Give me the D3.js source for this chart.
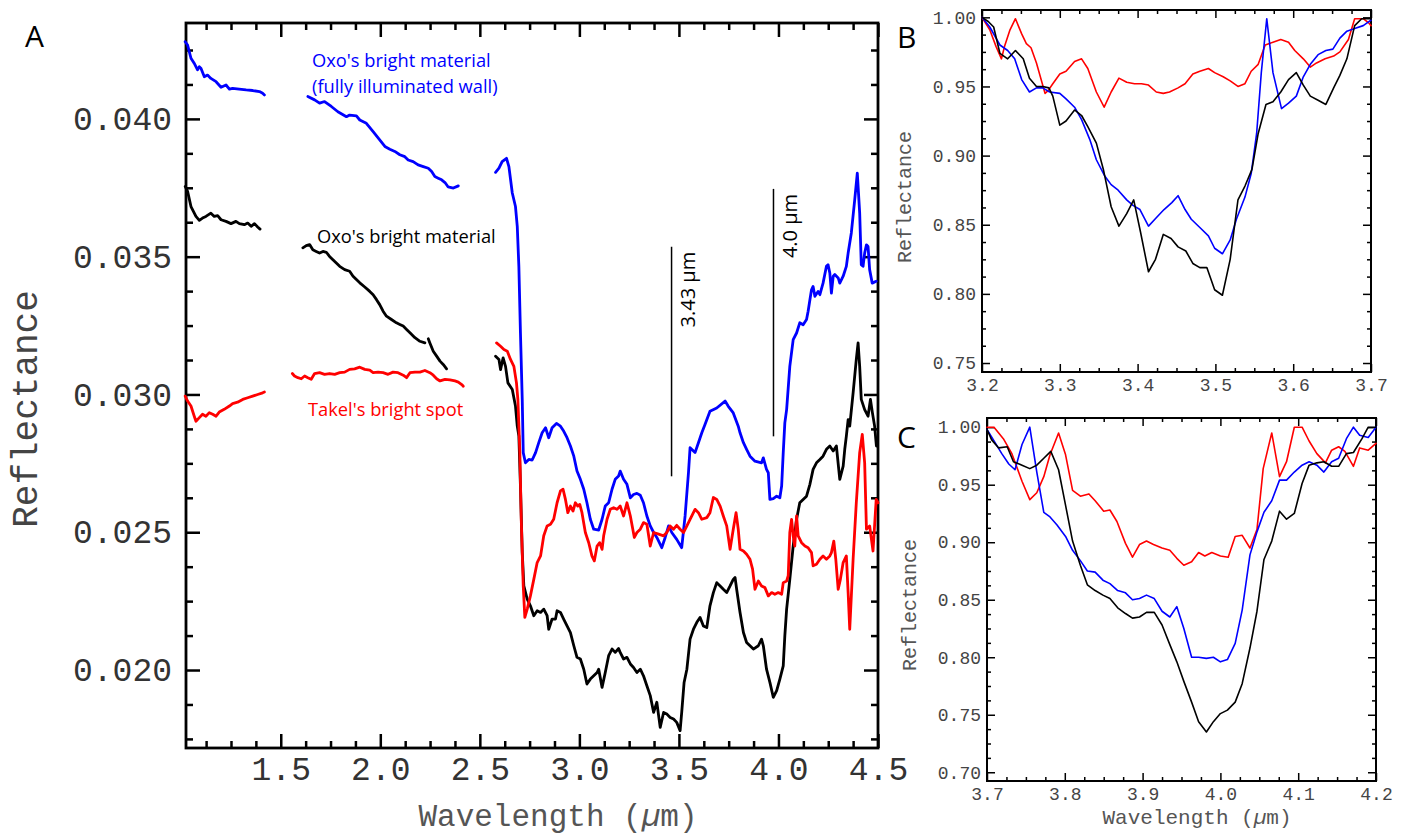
<!DOCTYPE html>
<html>
<head>
<meta charset="utf-8">
<script src="https://cdn.jsdelivr.net/npm/d3@7"></script>
<style>
  body { margin: 0; background: #fff; }
  svg { display: block; }
</style>
</head>
<body>
<script>
// ---- panel A : full spectra, three segments each (gaps = order overlaps) ----
var oxoWall = [
  [[1.020,0.04280],[1.032,0.04268],[1.049,0.04220],[1.065,0.04202],[1.082,0.04178],[1.091,0.04189],[1.099,0.04184],[1.116,0.04153],[1.132,0.04159],[1.149,0.04147],[1.175,0.04135],[1.200,0.04115],[1.225,0.04123],[1.242,0.04108],[1.258,0.04111],[1.291,0.04108],[1.326,0.04105],[1.359,0.04103],[1.393,0.04099],[1.409,0.04093],[1.418,0.04087]],
  [[1.636,0.04081],[1.670,0.04069],[1.695,0.04057],[1.720,0.04063],[1.754,0.04045],[1.787,0.04026],[1.830,0.04008],[1.846,0.04014],[1.880,0.04011],[1.897,0.03996],[1.930,0.03984],[1.964,0.03954],[1.997,0.03924],[2.023,0.03900],[2.048,0.03890],[2.073,0.03882],[2.098,0.03870],[2.123,0.03863],[2.140,0.03851],[2.165,0.03845],[2.190,0.03833],[2.216,0.03827],[2.241,0.03821],[2.258,0.03809],[2.274,0.03791],[2.291,0.03785],[2.308,0.03779],[2.325,0.03769],[2.341,0.03753],[2.367,0.03749],[2.392,0.03757]],
  [[2.579,0.03806],[2.596,0.03821],[2.612,0.03845],[2.634,0.03857],[2.646,0.03827],[2.663,0.03731],[2.679,0.03682],[2.688,0.03610],[2.696,0.03465],[2.704,0.03223],[2.713,0.02982],[2.718,0.02789],[2.729,0.02752],[2.746,0.02764],[2.763,0.02762],[2.780,0.02789],[2.796,0.02825],[2.813,0.02861],[2.830,0.02879],[2.846,0.02843],[2.863,0.02879],[2.885,0.02895],[2.905,0.02885],[2.921,0.02867],[2.938,0.02843],[2.955,0.02813],[2.972,0.02776],[2.988,0.02722],[3.005,0.02692],[3.022,0.02656],[3.038,0.02607],[3.055,0.02547],[3.072,0.02511],[3.097,0.02508],[3.114,0.02547],[3.130,0.02595],[3.147,0.02607],[3.164,0.02656],[3.180,0.02692],[3.197,0.02704],[3.205,0.02722],[3.222,0.02692],[3.239,0.02674],[3.256,0.02625],[3.272,0.02637],[3.289,0.02641],[3.306,0.02634],[3.322,0.02607],[3.339,0.02559],[3.356,0.02523],[3.373,0.02499],[3.389,0.02481],[3.414,0.02444],[3.431,0.02481],[3.448,0.02523],[3.464,0.02499],[3.489,0.02474],[3.514,0.02444],[3.531,0.02559],[3.548,0.02716],[3.556,0.02807],[3.581,0.02789],[3.598,0.02825],[3.615,0.02861],[3.631,0.02891],[3.656,0.02939],[3.690,0.02951],[3.732,0.02976],[3.748,0.02957],[3.773,0.02933],[3.798,0.02885],[3.807,0.02861],[3.824,0.02825],[3.840,0.02801],[3.857,0.02776],[3.882,0.02758],[3.915,0.02752],[3.924,0.02770],[3.940,0.02728],[3.949,0.02716],[3.957,0.02619],[3.974,0.02622],[3.991,0.02631],[4.007,0.02625],[4.016,0.02668],[4.024,0.02789],[4.032,0.02897],[4.041,0.02945],[4.057,0.03102],[4.074,0.03199],[4.091,0.03223],[4.107,0.03260],[4.124,0.03253],[4.141,0.03272],[4.149,0.03302],[4.158,0.03344],[4.166,0.03380],[4.174,0.03392],[4.183,0.03356],[4.199,0.03374],[4.208,0.03362],[4.224,0.03404],[4.241,0.03465],[4.249,0.03471],[4.258,0.03441],[4.266,0.03368],[4.275,0.03429],[4.283,0.03435],[4.300,0.03423],[4.308,0.03404],[4.325,0.03429],[4.341,0.03465],[4.350,0.03513],[4.366,0.03586],[4.383,0.03706],[4.396,0.03803],[4.408,0.03658],[4.416,0.03471],[4.425,0.03465],[4.433,0.03513],[4.442,0.03543],[4.450,0.03537],[4.458,0.03453],[4.471,0.03404],[4.491,0.03411]]
];

var oxoBright = [
  [[1.020,0.03755],[1.032,0.03737],[1.049,0.03682],[1.074,0.03646],[1.091,0.03632],[1.107,0.03640],[1.124,0.03646],[1.149,0.03658],[1.166,0.03646],[1.183,0.03649],[1.200,0.03634],[1.225,0.03628],[1.250,0.03620],[1.275,0.03628],[1.292,0.03620],[1.317,0.03616],[1.334,0.03622],[1.351,0.03610],[1.368,0.03620],[1.384,0.03608],[1.396,0.03600]],
  [[1.611,0.03532],[1.628,0.03540],[1.645,0.03544],[1.661,0.03525],[1.678,0.03519],[1.695,0.03513],[1.712,0.03519],[1.729,0.03516],[1.745,0.03501],[1.762,0.03489],[1.779,0.03477],[1.796,0.03465],[1.821,0.03453],[1.846,0.03447],[1.863,0.03429],[1.880,0.03417],[1.897,0.03405],[1.922,0.03390],[1.947,0.03374],[1.964,0.03362],[1.981,0.03344],[1.997,0.03326],[2.014,0.03302],[2.031,0.03284],[2.056,0.03272],[2.081,0.03260],[2.098,0.03254],[2.115,0.03248],[2.132,0.03236],[2.149,0.03224],[2.174,0.03206],[2.199,0.03193],[2.224,0.03187]],
  [[2.241,0.03202],[2.249,0.03187],[2.266,0.03157],[2.283,0.03139],[2.300,0.03121],[2.316,0.03109],[2.333,0.03093]],
  [[2.579,0.03139],[2.596,0.03127],[2.604,0.03090],[2.617,0.03133],[2.629,0.03102],[2.641,0.03042],[2.663,0.03018],[2.679,0.02958],[2.688,0.02885],[2.696,0.02849],[2.704,0.02668],[2.713,0.02426],[2.721,0.02305],[2.738,0.02257],[2.754,0.02233],[2.771,0.02197],[2.788,0.02215],[2.805,0.02209],[2.821,0.02221],[2.838,0.02197],[2.846,0.02148],[2.863,0.02185],[2.880,0.02185],[2.888,0.02215],[2.905,0.02209],[2.921,0.02185],[2.938,0.02160],[2.955,0.02136],[2.972,0.02088],[2.988,0.02046],[3.005,0.02040],[3.022,0.02003],[3.038,0.01949],[3.055,0.01967],[3.072,0.01979],[3.089,0.01991],[3.097,0.02003],[3.114,0.01937],[3.130,0.01991],[3.147,0.02052],[3.164,0.02076],[3.180,0.02064],[3.197,0.02078],[3.205,0.02064],[3.222,0.02040],[3.239,0.02046],[3.256,0.02022],[3.272,0.02009],[3.289,0.01991],[3.306,0.02003],[3.322,0.01979],[3.339,0.01943],[3.356,0.01907],[3.373,0.01846],[3.389,0.01883],[3.406,0.01792],[3.423,0.01846],[3.439,0.01840],[3.456,0.01828],[3.473,0.01822],[3.489,0.01810],[3.506,0.01780],[3.514,0.01846],[3.526,0.01955],[3.540,0.02003],[3.556,0.02112],[3.573,0.02148],[3.590,0.02173],[3.606,0.02191],[3.623,0.02160],[3.640,0.02154],[3.656,0.02233],[3.673,0.02281],[3.690,0.02317],[3.707,0.02305],[3.723,0.02293],[3.740,0.02281],[3.757,0.02305],[3.773,0.02329],[3.782,0.02336],[3.790,0.02293],[3.807,0.02209],[3.824,0.02136],[3.840,0.02100],[3.857,0.02088],[3.874,0.02076],[3.899,0.02088],[3.915,0.02112],[3.924,0.02088],[3.940,0.02003],[3.957,0.01955],[3.974,0.01901],[3.991,0.01925],[4.007,0.01967],[4.024,0.02015],[4.032,0.02124],[4.041,0.02221],[4.057,0.02329],[4.074,0.02450],[4.091,0.02547],[4.107,0.02607],[4.124,0.02619],[4.141,0.02631],[4.158,0.02674],[4.174,0.02728],[4.191,0.02752],[4.208,0.02764],[4.224,0.02776],[4.241,0.02801],[4.258,0.02813],[4.275,0.02795],[4.291,0.02813],[4.308,0.02692],[4.325,0.02740],[4.333,0.02801],[4.341,0.02849],[4.350,0.02909],[4.358,0.02885],[4.375,0.03006],[4.391,0.03127],[4.400,0.03187],[4.408,0.03102],[4.416,0.02982],[4.433,0.02945],[4.450,0.02921],[4.462,0.02982],[4.472,0.02933],[4.483,0.02885],[4.492,0.02813]]
];

var takelSpot = [
  [[1.020,0.02994],[1.032,0.02976],[1.049,0.02958],[1.065,0.02922],[1.074,0.02903],[1.091,0.02916],[1.107,0.02928],[1.124,0.02921],[1.141,0.02934],[1.158,0.02928],[1.175,0.02921],[1.191,0.02936],[1.216,0.02946],[1.242,0.02958],[1.258,0.02967],[1.283,0.02972],[1.309,0.02982],[1.334,0.02988],[1.359,0.02994],[1.384,0.03000],[1.409,0.03006],[1.418,0.03009]],
  [[1.558,0.03076],[1.569,0.03067],[1.586,0.03061],[1.603,0.03057],[1.620,0.03067],[1.636,0.03061],[1.653,0.03055],[1.670,0.03076],[1.695,0.03079],[1.720,0.03073],[1.745,0.03076],[1.771,0.03073],[1.796,0.03079],[1.821,0.03081],[1.846,0.03091],[1.871,0.03093],[1.897,0.03099],[1.922,0.03091],[1.947,0.03088],[1.964,0.03079],[1.989,0.03081],[2.014,0.03079],[2.039,0.03073],[2.064,0.03081],[2.089,0.03079],[2.115,0.03070],[2.132,0.03061],[2.149,0.03079],[2.174,0.03081],[2.199,0.03081],[2.224,0.03087],[2.249,0.03079],[2.266,0.03070],[2.283,0.03057],[2.300,0.03049],[2.325,0.03055],[2.350,0.03053],[2.375,0.03049],[2.392,0.03045],[2.409,0.03036],[2.417,0.03030]],
  [[2.584,0.03187],[2.604,0.03175],[2.621,0.03163],[2.638,0.03157],[2.654,0.03127],[2.671,0.03102],[2.684,0.03042],[2.691,0.02982],[2.701,0.02789],[2.708,0.02547],[2.718,0.02305],[2.726,0.02191],[2.738,0.02221],[2.754,0.02269],[2.771,0.02329],[2.788,0.02390],[2.805,0.02414],[2.821,0.02487],[2.838,0.02523],[2.855,0.02529],[2.871,0.02547],[2.888,0.02607],[2.905,0.02650],[2.918,0.02656],[2.930,0.02619],[2.942,0.02571],[2.955,0.02595],[2.968,0.02577],[2.980,0.02607],[2.992,0.02595],[3.002,0.02601],[3.013,0.02571],[3.030,0.02499],[3.047,0.02462],[3.063,0.02414],[3.075,0.02396],[3.089,0.02450],[3.102,0.02462],[3.114,0.02438],[3.122,0.02487],[3.139,0.02547],[3.155,0.02583],[3.172,0.02589],[3.189,0.02583],[3.205,0.02595],[3.222,0.02559],[3.239,0.02607],[3.256,0.02559],[3.276,0.02481],[3.289,0.02499],[3.306,0.02511],[3.322,0.02535],[3.339,0.02529],[3.356,0.02450],[3.373,0.02499],[3.398,0.02493],[3.423,0.02487],[3.439,0.02499],[3.456,0.02523],[3.473,0.02511],[3.489,0.02525],[3.506,0.02511],[3.523,0.02499],[3.540,0.02523],[3.556,0.02547],[3.581,0.02583],[3.598,0.02571],[3.615,0.02547],[3.640,0.02553],[3.656,0.02571],[3.673,0.02626],[3.690,0.02619],[3.707,0.02595],[3.723,0.02559],[3.740,0.02523],[3.757,0.02438],[3.773,0.02511],[3.787,0.02571],[3.798,0.02511],[3.807,0.02438],[3.824,0.02432],[3.840,0.02420],[3.857,0.02402],[3.870,0.02366],[3.882,0.02293],[3.899,0.02323],[3.915,0.02305],[3.932,0.02299],[3.949,0.02269],[3.966,0.02281],[3.982,0.02275],[3.999,0.02281],[4.016,0.02275],[4.024,0.02317],[4.041,0.02323],[4.049,0.02342],[4.057,0.02499],[4.066,0.02547],[4.074,0.02487],[4.082,0.02450],[4.091,0.02559],[4.099,0.02487],[4.116,0.02462],[4.133,0.02450],[4.149,0.02444],[4.166,0.02426],[4.174,0.02378],[4.191,0.02384],[4.208,0.02402],[4.224,0.02414],[4.241,0.02402],[4.258,0.02414],[4.266,0.02426],[4.278,0.02468],[4.288,0.02402],[4.300,0.02293],[4.311,0.02329],[4.325,0.02390],[4.341,0.02414],[4.350,0.02281],[4.358,0.02148],[4.375,0.02402],[4.391,0.02607],[4.408,0.02789],[4.421,0.02855],[4.433,0.02752],[4.442,0.02511],[4.458,0.02523],[4.475,0.02432],[4.491,0.02619],[4.500,0.02607]]
];

// ---- panel B : continuum-removed 3.2-3.7 um ----
var oxoWallB = [[3.200,1.000],[3.210,0.993],[3.223,0.980],[3.233,0.976],[3.242,0.970],[3.251,0.955],[3.261,0.946],[3.270,0.949],[3.278,0.949],[3.287,0.946],[3.300,0.945],[3.308,0.941],[3.319,0.935],[3.328,0.926],[3.339,0.911],[3.347,0.897],[3.358,0.885],[3.366,0.879],[3.375,0.875],[3.386,0.868],[3.394,0.864],[3.403,0.861],[3.414,0.849],[3.424,0.855],[3.434,0.861],[3.444,0.866],[3.452,0.871],[3.461,0.861],[3.469,0.854],[3.480,0.848],[3.491,0.842],[3.499,0.833],[3.509,0.829],[3.519,0.839],[3.527,0.854],[3.538,0.870],[3.546,0.887],[3.553,0.916],[3.559,0.960],[3.566,0.999],[3.574,0.960],[3.585,0.934],[3.594,0.938],[3.604,0.943],[3.613,0.957],[3.622,0.966],[3.632,0.973],[3.642,0.976],[3.651,0.977],[3.660,0.985],[3.669,0.990],[3.679,0.992],[3.690,0.994],[3.700,0.998]];
var oxoBrightB = [[3.200,1.000],[3.208,0.997],[3.215,0.993],[3.223,0.974],[3.233,0.970],[3.243,0.976],[3.253,0.970],[3.261,0.956],[3.270,0.950],[3.278,0.950],[3.286,0.949],[3.291,0.943],[3.300,0.922],[3.308,0.925],[3.319,0.933],[3.328,0.929],[3.336,0.921],[3.347,0.909],[3.356,0.890],[3.366,0.863],[3.376,0.849],[3.386,0.858],[3.395,0.868],[3.404,0.844],[3.414,0.816],[3.423,0.825],[3.433,0.843],[3.443,0.840],[3.452,0.834],[3.462,0.831],[3.471,0.822],[3.480,0.819],[3.489,0.819],[3.499,0.803],[3.509,0.799],[3.519,0.825],[3.529,0.868],[3.538,0.878],[3.547,0.890],[3.555,0.916],[3.565,0.937],[3.574,0.939],[3.584,0.946],[3.594,0.955],[3.604,0.960],[3.613,0.951],[3.622,0.943],[3.632,0.940],[3.642,0.937],[3.652,0.949],[3.660,0.958],[3.669,0.970],[3.679,0.994],[3.688,0.999],[3.700,0.999]];
var takelSpotB = [[3.200,1.000],[3.210,0.991],[3.218,0.979],[3.225,0.970],[3.229,0.979],[3.236,0.991],[3.243,0.999],[3.251,0.988],[3.257,0.981],[3.263,0.978],[3.270,0.967],[3.276,0.955],[3.281,0.945],[3.285,0.947],[3.291,0.952],[3.300,0.959],[3.308,0.961],[3.319,0.968],[3.328,0.970],[3.336,0.963],[3.347,0.946],[3.357,0.935],[3.366,0.946],[3.376,0.956],[3.386,0.953],[3.396,0.952],[3.405,0.952],[3.414,0.951],[3.424,0.946],[3.433,0.945],[3.441,0.946],[3.452,0.949],[3.461,0.952],[3.471,0.959],[3.480,0.961],[3.491,0.963],[3.499,0.960],[3.510,0.957],[3.519,0.954],[3.529,0.950],[3.538,0.952],[3.546,0.961],[3.555,0.966],[3.564,0.980],[3.574,0.982],[3.584,0.984],[3.594,0.982],[3.602,0.976],[3.613,0.970],[3.622,0.964],[3.630,0.967],[3.641,0.970],[3.652,0.972],[3.660,0.975],[3.671,0.984],[3.679,0.999],[3.690,0.999],[3.697,0.996],[3.700,0.994]];

// ---- panel C : continuum-removed 3.7-4.2 um ----
var oxoWallC = [[3.700,0.998],[3.711,0.986],[3.719,0.977],[3.728,0.968],[3.736,0.963],[3.745,0.985],[3.755,1.000],[3.764,0.961],[3.773,0.926],[3.781,0.922],[3.790,0.915],[3.801,0.905],[3.810,0.893],[3.820,0.884],[3.829,0.875],[3.839,0.874],[3.849,0.867],[3.858,0.864],[3.868,0.858],[3.878,0.856],[3.887,0.850],[3.896,0.851],[3.905,0.854],[3.915,0.851],[3.925,0.840],[3.935,0.835],[3.944,0.844],[3.953,0.825],[3.963,0.800],[3.972,0.800],[3.982,0.799],[3.991,0.800],[4.000,0.796],[4.009,0.798],[4.019,0.812],[4.028,0.841],[4.038,0.889],[4.047,0.909],[4.056,0.926],[4.066,0.936],[4.076,0.954],[4.085,0.954],[4.095,0.961],[4.105,0.967],[4.114,0.970],[4.124,0.967],[4.133,0.961],[4.143,0.970],[4.152,0.973],[4.162,0.990],[4.171,1.000],[4.179,0.993],[4.190,0.991],[4.200,1.000]];
var oxoBrightC = [[3.700,0.998],[3.706,0.989],[3.715,0.982],[3.726,0.983],[3.734,0.970],[3.745,0.967],[3.755,0.964],[3.764,0.967],[3.773,0.973],[3.782,0.979],[3.792,0.963],[3.801,0.932],[3.810,0.901],[3.820,0.880],[3.829,0.863],[3.839,0.858],[3.849,0.854],[3.858,0.851],[3.868,0.843],[3.878,0.838],[3.887,0.834],[3.896,0.835],[3.905,0.839],[3.915,0.839],[3.925,0.828],[3.935,0.811],[3.944,0.796],[3.953,0.779],[3.963,0.761],[3.972,0.744],[3.982,0.735],[3.991,0.744],[4.000,0.751],[4.009,0.754],[4.019,0.761],[4.028,0.777],[4.038,0.808],[4.047,0.840],[4.056,0.885],[4.066,0.901],[4.076,0.927],[4.085,0.920],[4.095,0.925],[4.105,0.951],[4.114,0.967],[4.124,0.969],[4.133,0.970],[4.143,0.966],[4.152,0.966],[4.162,0.977],[4.171,0.978],[4.182,0.990],[4.190,1.000],[4.200,1.000]];
var takelSpotC = [[3.700,1.000],[3.709,1.000],[3.721,0.990],[3.732,0.977],[3.745,0.953],[3.755,0.937],[3.764,0.943],[3.773,0.957],[3.781,0.976],[3.792,0.995],[3.801,0.976],[3.810,0.945],[3.820,0.940],[3.831,0.942],[3.839,0.936],[3.850,0.927],[3.858,0.928],[3.867,0.918],[3.878,0.899],[3.887,0.887],[3.896,0.898],[3.905,0.901],[3.914,0.898],[3.925,0.895],[3.935,0.893],[3.944,0.886],[3.953,0.880],[3.963,0.883],[3.972,0.891],[3.980,0.888],[3.989,0.891],[4.000,0.888],[4.010,0.887],[4.019,0.905],[4.028,0.906],[4.038,0.895],[4.047,0.911],[4.055,0.964],[4.066,0.995],[4.076,0.957],[4.085,0.970],[4.095,1.000],[4.105,1.000],[4.114,0.988],[4.124,0.977],[4.135,0.969],[4.143,0.980],[4.152,0.983],[4.160,0.979],[4.171,0.966],[4.179,0.982],[4.190,0.980],[4.200,0.986]];

// tick labels
var xTicksA = [1.5, 2.0, 2.5, 3.0, 3.5, 4.0, 4.5];
var yTicksA = [0.020, 0.025, 0.030, 0.035, 0.040];
var xTicksB = [3.2, 3.3, 3.4, 3.5, 3.6, 3.7];
var xTicksC = [3.7, 3.8, 3.9, 4.0, 4.1, 4.2];
var yTicksB = [0.75, 0.80, 0.85, 0.90, 0.95, 1.00];
var yTicksC = [0.70, 0.75, 0.80, 0.85, 0.90, 0.95, 1.00];

// annotation bars in panel A: [wavelength, from, to, text]
var bands = [[3.463, 0.02703, 0.03536, '3.43 µm'], [3.975, 0.02848, 0.03746, '4.0 µm']];

var color = { wall: '#0000ff', bright: '#000000', takel: '#ff0000' };
var mono = '"Liberation Mono", "Courier New", monospace';
var sans = '"Open Sans", "Noto Sans", sans-serif';

var svg = d3.select('body').append('svg').attr('width', 1405).attr('height', 835);

function panel(c) {
  var x = d3.scaleLinear().domain(c.xDomain).range([c.left, c.right]);
  var y = d3.scaleLinear().domain(c.yDomain).range([c.bottom, c.top]);
  var g = svg.append('g');

  function put(axis, tx, ty) {
    var a = g.append('g').attr('transform', 'translate(' + tx + ',' + ty + ')').call(axis);
    a.select('.domain').remove();
    a.selectAll('line').attr('stroke', '#000').attr('stroke-width', c.tickWidth);
    a.selectAll('text').attr('font-family', mono).attr('font-size', c.tickFont)
      .attr('fill', c.tickColor);
    return a;
  }
  var fx = d3.format(c.xFormat), fy = d3.format(c.yFormat);
  put(d3.axisBottom(x).tickValues(c.xMajor).tickSize(-c.major).tickPadding(c.xPad).tickFormat(fx), 0, c.bottom);
  put(d3.axisBottom(x).tickValues(c.xMinor).tickSize(-c.minor).tickFormat(''), 0, c.bottom);
  put(d3.axisTop(x).tickValues(c.xMajor).tickSize(-c.major).tickFormat(''), 0, c.top);
  put(d3.axisTop(x).tickValues(c.xMinor).tickSize(-c.minor).tickFormat(''), 0, c.top);
  put(d3.axisLeft(y).tickValues(c.yMajor).tickSize(-c.major).tickPadding(c.yPad).tickFormat(fy), c.left, 0);
  put(d3.axisLeft(y).tickValues(c.yMinor).tickSize(-c.minor).tickFormat(''), c.left, 0);
  put(d3.axisRight(y).tickValues(c.yMajor).tickSize(-c.major).tickFormat(''), c.right, 0);
  put(d3.axisRight(y).tickValues(c.yMinor).tickSize(-c.minor).tickFormat(''), c.right, 0);

  g.append('rect').attr('x', c.left).attr('y', c.top)
    .attr('width', c.right - c.left).attr('height', c.bottom - c.top)
    .attr('fill', 'none').attr('stroke', '#000').attr('stroke-width', c.frame);

  var line = d3.line().x(function (d) { return x(d[0]); }).y(function (d) { return y(d[1]); });
  c.series.forEach(function (s) {
    s.segments.forEach(function (seg) {
      g.append('path').datum(seg).attr('d', line).attr('fill', 'none')
        .attr('stroke', s.color).attr('stroke-width', c.lineWidth)
        .attr('stroke-linejoin', 'round').attr('stroke-linecap', 'round');
    });
  });
  return { x: x, y: y, g: g };
}

function minors(lo, hi, step, majors) {
  return d3.range(lo, hi + step / 2, step).filter(function (v) {
    return !majors.some(function (m) { return Math.abs(m - v) < step / 10; });
  });
}

// baseline placed explicitly so descenders stay inside the picture
function wavelengthLabel(g, cx, base, size) {
  var t = g.append('text').attr('x', cx).attr('y', base).attr('text-anchor', 'middle')
    .attr('font-family', mono).attr('font-size', size).attr('fill', '#555');
  t.append('tspan').text('Wavelength (');
  t.append('tspan').attr('font-style', 'italic').text('µ');
  t.append('tspan').text('m)');
}

function reflectanceLabel(g, cx, cy, size, fill) {
  g.append('text').attr('transform', 'translate(' + cx + ',' + cy + ') rotate(-90)')
    .attr('text-anchor', 'middle').attr('dominant-baseline', 'central')
    .attr('font-family', mono).attr('font-size', size).attr('fill', fill).text('Reflectance');
}

// ---------------- panel A ----------------
var A = panel({
  left: 186, right: 878, top: 23, bottom: 748,
  xDomain: [1.024, 4.5], yDomain: [0.01717, 0.04348],
  xMajor: xTicksA, xMinor: minors(1.125, 4.375, 0.125, xTicksA),
  yMajor: yTicksA, yMinor: minors(0.0175, 0.0425, 0.00125, yTicksA),
  xFormat: '.1f', yFormat: '.3f', major: 14, minor: 7, tickWidth: 2.5, frame: 2.8,
  tickFont: 33, tickColor: '#333', xPad: 9, yPad: 14, lineWidth: 2.8,
  series: [
    { color: color.wall, segments: oxoWall },
    { color: color.bright, segments: oxoBright },
    { color: color.takel, segments: takelSpot }
  ]
});
reflectanceLabel(svg, 27, 409, 36, '#444');
wavelengthLabel(svg, 558, 826, 31);

bands.forEach(function (b) {
  var xx = A.x(b[0]);
  A.g.append('line').attr('x1', xx).attr('x2', xx).attr('y1', A.y(b[1])).attr('y2', A.y(b[2]))
    .attr('stroke', '#000').attr('stroke-width', 1.5);
  var yTop = A.y(b[2]);
  A.g.append('text').attr('transform', 'translate(' + (xx + 16) + ',' + (yTop + 5) + ') rotate(-90)')
    .attr('text-anchor', 'end').attr('dominant-baseline', 'central')
    .attr('font-family', sans).attr('font-size', 20).attr('fill', '#000').text(b[3]);
});

var notes = [
  ["Oxo's bright material", 312, 67, color.wall],
  ['(fully illuminated wall)', 312, 93, color.wall],
  ["Oxo's bright material", 317, 243, color.bright],
  ["Takel's bright spot", 308, 416, color.takel]
];
notes.forEach(function (n) {
  svg.append('text').attr('x', n[1]).attr('y', n[2]).attr('font-family', sans)
    .attr('font-size', 18.3).attr('fill', n[3]).text(n[0]);
});

// ---------------- panel B ----------------
var smallAxes = {
  xFormat: '.1f', yFormat: '.2f', major: 8, minor: 4, tickWidth: 1.5, frame: 2,
  tickFont: 18, tickColor: '#444', xPad: 6, yPad: 6, lineWidth: 1.6
};
panel(Object.assign({}, smallAxes, {
  left: 982, right: 1371, top: 10, bottom: 372,
  xDomain: [3.2, 3.7], yDomain: [0.7435, 1.0053],
  xMajor: xTicksB, xMinor: minors(3.2, 3.7, 0.025, xTicksB),
  yMajor: yTicksB, yMinor: minors(0.75, 1.0, 0.0125, yTicksB),
  series: [
    { color: color.takel, segments: [takelSpotB] },
    { color: color.wall, segments: [oxoWallB] },
    { color: color.bright, segments: [oxoBrightB] }
  ]
}));
reflectanceLabel(svg, 905, 197, 20, '#555');

// ---------------- panel C ----------------
panel(Object.assign({}, smallAxes, {
  left: 987, right: 1376, top: 418, bottom: 781,
  xDomain: [3.7, 4.2], yDomain: [0.6924, 1.008],
  xMajor: xTicksC, xMinor: minors(3.7, 4.2, 0.025, xTicksC),
  yMajor: yTicksC, yMinor: minors(0.70, 1.0, 0.0125, yTicksC),
  series: [
    { color: color.takel, segments: [takelSpotC] },
    { color: color.wall, segments: [oxoWallC] },
    { color: color.bright, segments: [oxoBrightC] }
  ]
}));
reflectanceLabel(svg, 910, 605, 20, '#555');
wavelengthLabel(svg, 1197, 824, 21);

// panel letters
[['A', 25, 47], ['B', 897, 48], ['C', 897, 448]].forEach(function (p) {
  svg.append('text').attr('x', p[1]).attr('y', p[2]).attr('font-family', sans)
    .attr('font-size', 30).attr('fill', '#000').text(p[0]);
});
</script>
</body>
</html>
